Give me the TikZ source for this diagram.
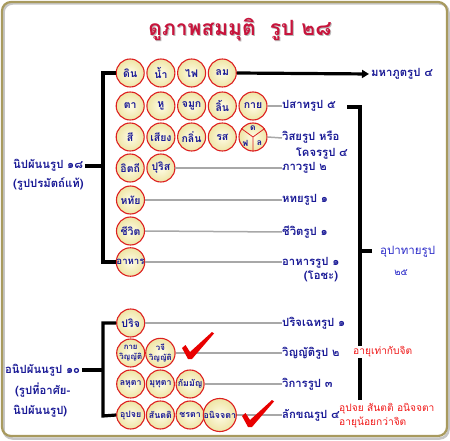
\documentclass[tikz,border=0pt]{standalone}
\usepackage{fontspec}
\setmainfont[Script=Thai]{Loma}
\usepackage{tikz}
\usetikzlibrary{arrows.meta, positioning, calc}

\definecolor{rupablue}{HTML}{1A1A96}
\definecolor{upablue}{HTML}{2A2AC8}
\definecolor{rupared}{HTML}{DD2020}
\definecolor{creamin}{HTML}{FFFCE6}
\definecolor{creamout}{HTML}{EEE5A6}
\definecolor{linkgray}{HTML}{A8A8A8}
\definecolor{framecol}{HTML}{A89A5E}
\definecolor{titlered}{HTML}{C8143C}
\definecolor{notered}{HTML}{F01818}
\definecolor{checkred}{HTML}{E80000}

\tikzset{
  rupa/.style={circle, draw=rupared, line width=1.1pt, inner color=creamin, outer color=creamout,
    minimum size=28pt, inner sep=0pt, text=rupablue, align=center,
    font=\bfseries\fontsize{10.5}{11}\selectfont},
  squeeze/.style={font=\bfseries\fontsize{8.8}{8.8}\selectfont},
  twoline/.style={font=\bfseries\fontsize{7.8}{10.5}\selectfont},
  lbl/.style={anchor=west, inner sep=0pt, text=rupablue, text height=9pt, text depth=3pt,
    font=\bfseries\fontsize{11.3}{13}\selectfont},
  note/.style={anchor=west, inner sep=0pt, text=notered, font=\fontsize{10.2}{11}\selectfont},
  link/.style={draw=linkgray, line width=1.5pt},
  brace/.style={draw=black, line width=3.2pt},
}

\begin{document}
\begin{tikzpicture}[x=1pt,y=-1pt]
\useasboundingbox (0,0) rectangle (450,441);

% frame
\draw[gray!45, line width=2.5pt, rounded corners=9pt] (3.5,3.5) rectangle (448.5,438.5);
\draw[framecol, line width=2.2pt, rounded corners=9pt] (2,2) rectangle (447,436);

% title
\node[text=gray!55, font=\bfseries\fontsize{21}{23}\selectfont] (titleshadow) at (241,31) {ดูภาพสมมุติ\ \ รูป ๒๘};
\node[text=titlered, font=\bfseries\fontsize{21}{23}\selectfont] (title) at (240,30) {ดูภาพสมมุติ\ \ รูป ๒๘};

% nipphanna rupa
\foreach \n/\t [count=\i] in {din/ดิน, nam/น้ำ, fai/ไฟ, lom/ลม}
  \node[rupa] (\n) at ({99.5+30.7*\i},73) {\t};
\foreach \n/\t [count=\i] in {ta/ตา, hu/หู, jamuk/จมูก, lin/ลิ้น, kai/กาย}
  \node[rupa] (\n) at ({99.5+30.7*\i},106) {\t};
\foreach \n/\t [count=\i] in {si/สี, siang/เสียง, klin/กลิ่น, rot/รส}
  \node[rupa] (\n) at ({99.5+30.7*\i},137) {\t};
\node[rupa] (photthap) at (253,137) {};
\draw[rupared, line width=0.8pt] (photthap.144) -- (photthap.center) -- (photthap.36)
  (photthap.center) -- (photthap.270);
\node[text=rupablue, font=\bfseries\fontsize{8.5}{8.5}\selectfont] (phdin) at (253,128) {ด};
\node[text=rupablue, font=\bfseries\fontsize{8.5}{8.5}\selectfont] (phfai) at (245.5,143) {ฟ};
\node[text=rupablue, font=\bfseries\fontsize{8.5}{8.5}\selectfont] (phlom) at (259.5,143) {ล};
\node[rupa] (itthi) at (130.2,168) {อิตถี};
\node[rupa] (purisa) at (160.9,168) {ปุริส};
\node[rupa] (hathai) at (130.5,200) {หทัย};
\node[rupa] (chiwit) at (130.5,231) {ชีวิต};
\node[rupa, font=\bfseries\fontsize{9.6}{10}\selectfont] (ahan) at (130.5,262) {อาหาร};

% anipphanna rupa
\node[rupa] (parij) at (130.7,323) {ปริจ};
\node[rupa, twoline] (kaiwin) at (130.7,353) {กาย\\วิญญัติ};
\node[rupa, twoline] (wajiwin) at (160.4,353) {วจี\\วิญญัติ};
\foreach \n/\t [count=\i] in {lahuta/ลหุตา, mututa/มุทุตา, kammanya/กัมมัญ}
  \node[rupa, squeeze] (\n) at ({101+29.7*\i},384) {\t};
\foreach \n/\t [count=\i] in {upajaya/อุปจย, santati/สันตติ, jarata/ชรตา, anijjata/อนิจจตา}
  \node[rupa, squeeze] (\n) at ({101+29.7*\i},415) {\t};

% labels
\node[lbl] (mahalbl) at (371,74) {มหาภูตรูป ๔};
\node[lbl] (pasalbl) at (282,106) {ปสาทรูป ๕};
\node[lbl] (visalbl) at (282,138) {วิสยรูป หรือ};
\node[lbl, anchor=east] (khojlbl) at (348,154) {โคจรรูป ๔};
\node[lbl] (bhavlbl) at (282,168) {ภาวรูป ๒};
\node[lbl] (hatlbl) at (282,200) {หทยรูป ๑};
\node[lbl] (jivlbl) at (282,232) {ชีวิตรูป ๑};
\node[lbl] (ahalbl) at (282,262) {อาหารรูป ๑};
\node[lbl, anchor=center] (ojalbl) at (321,276) {(โอชะ)};
\node[lbl] (parlbl) at (282,323) {ปริจเฉทรูป ๑};
\node[lbl] (vinlbl) at (282,353) {วิญญัติรูป ๒};
\node[lbl] (viklbl) at (282,384) {วิการรูป ๓};
\node[lbl] (lakklbl) at (282,415) {ลักขณรูป ๔};
\node[lbl, text=upablue, font=\fontsize{11.5}{12}\selectfont] (upalbl) at (380,251) {อุปาทายรูป};
\node[text=upablue, font=\fontsize{9.5}{10}\selectfont] (upanum) at (401,273) {๒๕};

\node[lbl] (niplbl) at (13,166) {นิปผันนรูป ๑๘};
\node[lbl] (niplbl2) at (13,185) {(รูปปรมัตถ์แท้)};
\node[lbl] (anilbl) at (5,370) {อนิปผันนรูป ๑๐};
\node[lbl] (anilbl2) at (15,391) {(รูปที่อาศัย-};
\node[lbl] (anilbl3) at (13,411) {นิปผันนรูป)};

% brackets
\coordinate (lbbot) at (103,262);
\coordinate (lbend) at (103,416);
\coordinate (rbtop) at (347,107);
\coordinate (rbend) at (360,400);
\draw[brace] (din.west) -| (lbbot) -- (ahan.west);
\draw[brace] ([xshift=1.5pt]niplbl.east) -- (niplbl.east -| lbbot);
\draw[brace] (parij.west) -| (lbend) -- (upajaya.west);
\draw[brace] ([xshift=1.5pt]anilbl.east) -- (anilbl.east -| lbend);
\draw[brace] (rbtop) -| (rbend);
\draw[brace] ([xshift=-8pt]upalbl.west) -- (upalbl.west -| rbend);
\draw[brace, -{Triangle[length=7pt,width=8pt]}, shorten >=2pt] (lom.east) -- (mahalbl.west);

% gray links
\draw[link] (kai.east) -- (pasalbl.west);
\draw[link] (photthap.east) -- (visalbl.west);
\draw[link] (purisa.east) -- (bhavlbl.west);
\draw[link] (hathai.east) -- (hatlbl.west);
\draw[link] (chiwit.east) -- (jivlbl.west);
\draw[link] (ahan.east) -- (ahalbl.west);
\draw[link] (parij.east) -- (parlbl.west);
\draw[link] (wajiwin.east) -- (vinlbl.west);
\draw[link] (kammanya.east) -- (viklbl.west);
\draw[link] (anijjata.east) -- (lakklbl.west);

% notes in red
\node[note, fill=white, inner sep=1pt] (ayueq) at (352,352) {อายุเท่ากับจิต};
\node[note] (ayult1) at (339,409) {อุปจย สันตติ อนิจจตา};
\node[note] (ayult2) at (339,423) {อายุน้อยกว่าจิต};

% check marks
\foreach \cx/\cy in {182/348, 242/416}
  \fill[checkred] (\cx,\cy) -- ++(3.5,-3) -- ++(4.5,7) -- ++(22,-20) -- ++(2,1.5)
    -- ++(-22,25.5) -- ++(-4,0) -- cycle;
\end{tikzpicture}
\end{document}
